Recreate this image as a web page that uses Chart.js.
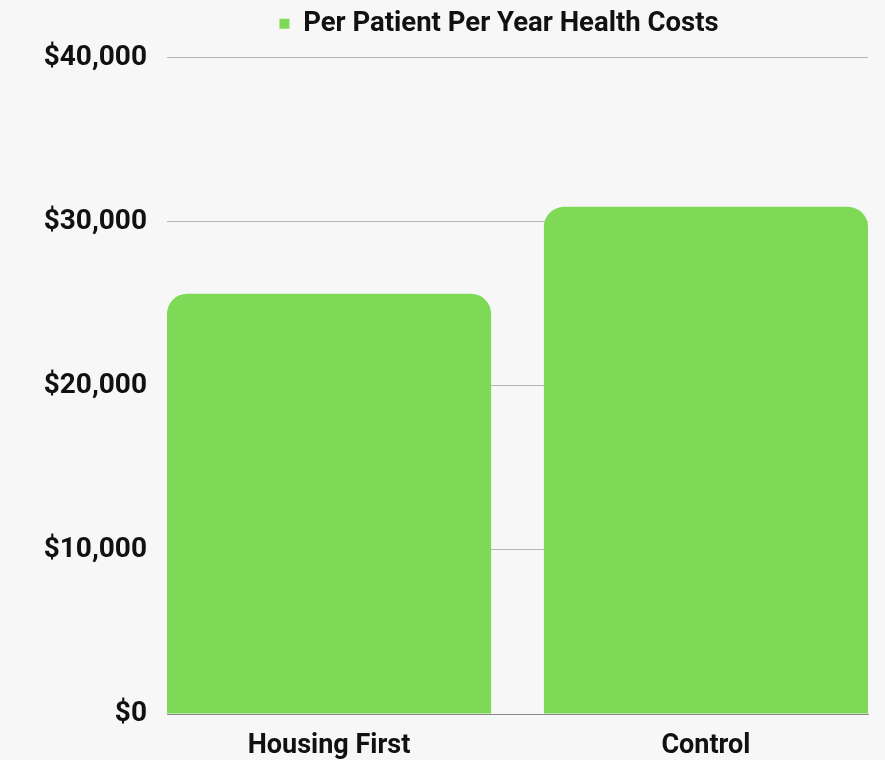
<!DOCTYPE html>
<html>
<head>
<meta charset="utf-8">
<script src="https://cdn.jsdelivr.net/npm/chart.js@4"></script>
<style>
  html, body { margin: 0; padding: 0; background: #f7f7f7; }
  #wrap { width: 885px; height: 760px; }
</style>
</head>
<body>
<div id="wrap"><canvas id="bar-chart" width="885" height="760"></canvas></div>
<script>
'use strict';

const categories = ['Housing First', 'Control'];
const costs = [25600, 30900];
const seriesLabel = 'Per Patient Per Year Health Costs';

const FONT = "Roboto, 'Liberation Sans', sans-serif";

const ctxb = document.getElementById('bar-chart').getContext('2d');
const chartb = new Chart(ctxb, {
  type: 'bar',
  data: {
    datasets: [{
      label: seriesLabel,
      data: costs.map((v, i) => ({ x: i, y: v })),
      backgroundColor: '#7ed957',
      borderRadius: { topLeft: 20, topRight: 20 },
      borderSkipped: 'bottom',
      barPercentage: 0.86,
      categoryPercentage: 1
    }]
  },
  options: {
    responsive: false,
    animation: false,
    layout: { padding: { left: 0, right: 17, top: 0, bottom: 0 } },
    plugins: {
      legend: {
        labels: {
          color: '#111',
          font: { family: FONT, size: 27.5, weight: 'bold' },
          boxWidth: 10,
          boxHeight: 10,
          padding: 10
        }
      },
      tooltip: { enabled: false }
    },
    scales: {
      x: {
        type: 'linear',
        offset: false,
        min: -0.43,
        max: 1.43,
        grid: { display: false },
        border: { color: '#888', width: 1 },
        afterFit: s => { s.height = 46; },
        ticks: {
          stepSize: 1,
          includeBounds: false,
          autoSkip: false,
          maxRotation: 0,
          color: '#111',
          font: { family: FONT, size: 27, weight: 'bold' },
          padding: 8,
          callback: v => categories[v] ?? ''
        }
      },
      y: {
        min: 0,
        max: 40000,
        grid: { color: '#b5b5b5', drawTicks: false },
        border: { display: false },
        afterFit: s => { s.width = 167; },
        ticks: {
          stepSize: 10000,
          padding: 20,
          color: '#111',
          font: { family: FONT, size: 28, weight: 'bold' },
          callback: v => '$' + v.toLocaleString('en-US')
        }
      }
    }
  },
  plugins: [{
    id: 'bg',
    beforeDraw(c) {
      const g = c.ctx;
      g.save();
      g.fillStyle = '#f7f7f7';
      g.fillRect(0, 0, c.width, c.height);
      g.restore();
    }
  }, {
    id: 'legendGap',
    beforeInit(c) {
      const fit = c.legend.fit;
      c.legend.fit = function () {
        fit.call(this);
        this.height += 10;
      };
    },
    afterLayout(c) {
      // legend sits a bit right of the canvas centre in the original
      c.legend.left += 130;
    }
  }]
});
</script>
</body>
</html>
